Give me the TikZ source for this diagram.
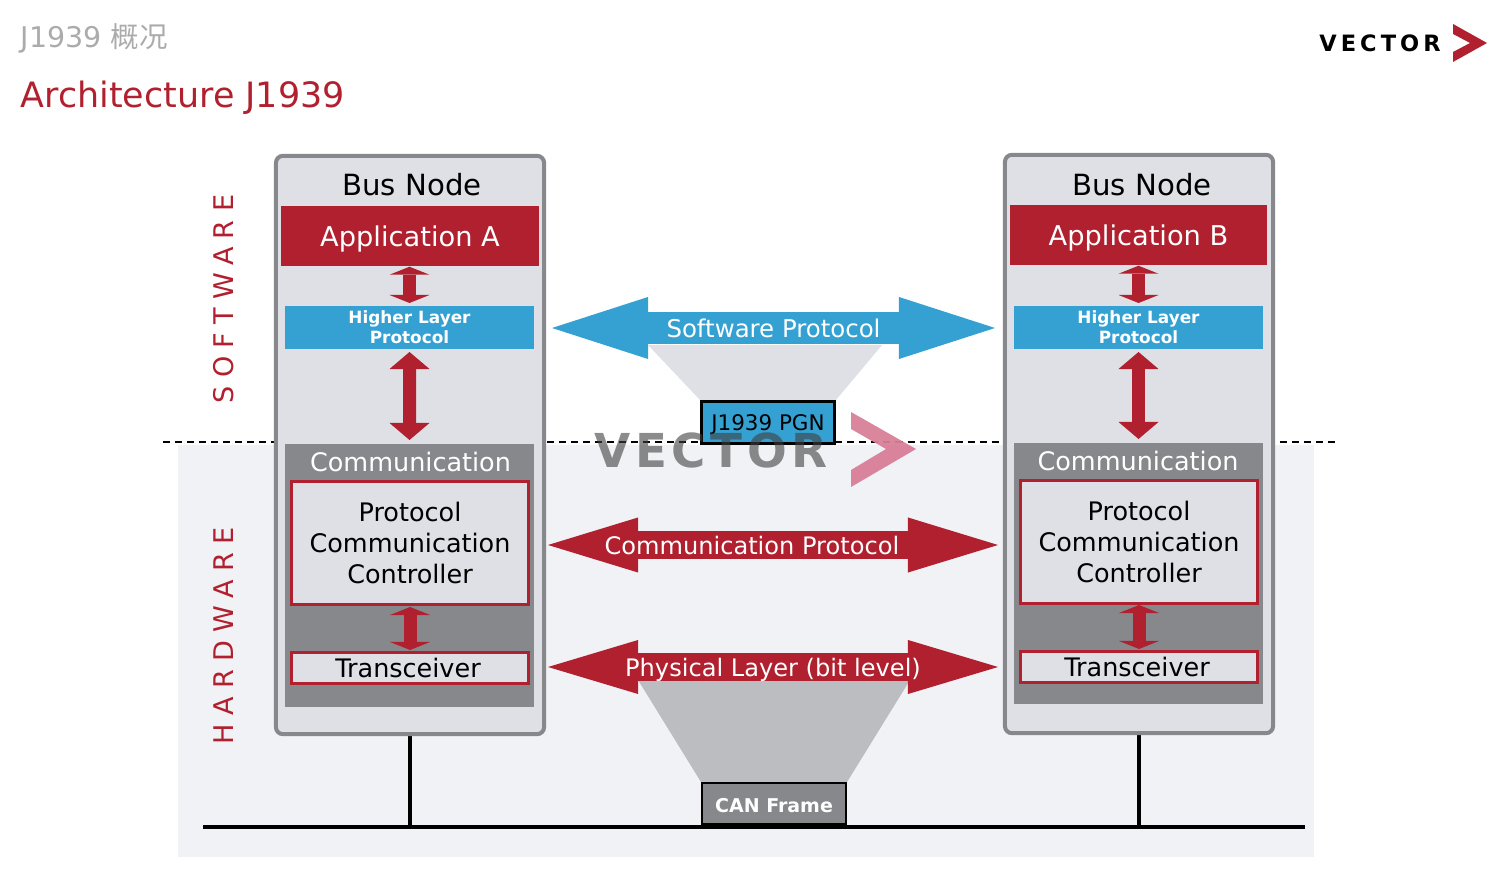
\documentclass[tikz,border=0pt]{standalone}
\usepackage{fontspec}
\setmainfont{DejaVu Sans}
\newfontfamily\cjk{Noto Sans CJK SC}
\usepackage{tikz}
\usetikzlibrary{positioning, arrows.meta, backgrounds}

\definecolor{vecred}{HTML}{B1202F}
\definecolor{vecblue}{HTML}{34A1D2}
\definecolor{vecgrey}{HTML}{87888C}
\definecolor{vecpale}{HTML}{DFE0E5}
\definecolor{vecpanel}{HTML}{F1F2F6}
\definecolor{vecfunnel}{HTML}{BCBDC1}
\definecolor{vecpink}{HTML}{D87F98}

\tikzset{
    blockarrow/.style n args={4}{draw=#4, line width=#1,
        arrows={Triangle[length=#2,width=#3,line width=0pt]-Triangle[length=#2,width=#3,line width=0pt]}},
    smallarrow/.style={blockarrow={.13cm}{#1}{.4cm}{vecred}},
    nodebox/.style={draw=vecgrey, fill=vecpale, line width=.04cm, rounded corners=.07cm, minimum width=2.68cm, minimum height=5.78cm},
    appbox/.style={fill=vecred, text=white, minimum width=2.57cm, minimum height=.6cm, text depth=0pt, font=\fontsize{7.75}{9}\selectfont},
    layerbox/.style={fill=vecblue, text=white, minimum width=2.49cm, minimum height=.43cm, font=\fontsize{4.8}{5.7}\selectfont\bfseries, align=center},
    commbox/.style={fill=vecgrey, minimum width=2.49cm},
    ctrlbox/.style={draw=vecred, fill=vecpale, line width=.03cm, minimum width=2.36cm, minimum height=1.23cm, font=\fontsize{7.25}{8.75}\selectfont, align=center},
    transbox/.style={draw=vecred, fill=vecpale, line width=.03cm, minimum width=2.36cm, minimum height=.31cm, font=\fontsize{7.25}{8.75}\selectfont},
    sidetext/.style={rotate=90, text=vecred, font=\fontsize{7.7}{9}\selectfont\addfontfeatures{LetterSpace=31}},
    arrowtext/.style={text=white, text depth=0pt, font=\fontsize{#1}{9}\selectfont}
}

\begin{document}
\begin{tikzpicture}[x=.01cm, y=-.01cm, inner sep=0pt]
        \useasboundingbox (0,0) rectangle (1492,877);

        % Heading
        \node[anchor=west, text=black!33, font=\fontsize{8.1}{10}\selectfont] (heading) at (20,38) {J1939 {\cjk 概况}};
        \node[anchor=west, text=vecred, font=\fontsize{9.93}{12}\selectfont] (title) at (20,98) {Architecture J1939};

        % Logo
        \node[font=\fontsize{6.4}{8}\selectfont\bfseries\addfontfeatures{LetterSpace=18}] (logo) at (1380,43) {VECTOR};
        \fill[vecred] (1453,24) -- (1487,43) -- (1453,62) -- (1453,52) -- (1470,43) -- (1453,34) -- cycle;

        % Side texts
        \node[sidetext] (software) at (224,299) {SOFTWARE};
        \node[sidetext] (hardware) at (224,636) {HARDWARE};

        % Bus node A
        \node[nodebox] (busA) at (410,445) {};
        \node[font=\fontsize{8.3}{10}\selectfont] (nameA) at (412,185) {Bus Node};
        \node[appbox] (appA) at (410,236) {Application A};
        \node[layerbox] (hlpA) [below of=appA, node distance=.915cm, xshift=-.005cm] {Higher Layer\\Protocol};
        \node[commbox, minimum height=2.63cm] (commA) at (409.5,575.5) {};
        \node[text=white, font=\fontsize{7.25}{9}\selectfont] (commtextA) at (410.5,462) {Communication};
        \node[ctrlbox] (ctrlA) at (410,543) {Protocol\\Communication\\Controller};
        \node[transbox] (transA) [below of=ctrlA, node distance=1.25cm] {Transceiver\rule{.04cm}{0pt}};

        % Bus node B
        \node[nodebox] (busB) at (1139,444) {};
        \node[font=\fontsize{8.3}{10}\selectfont] (nameB) at (1142,185) {Bus Node};
        \node[appbox] (appB) at (1138.5,235) {Application B};
        \node[layerbox] (hlpB) [below of=appB, node distance=.92cm] {Higher Layer\\Protocol};
        \node[commbox, minimum height=2.61cm] (commB) at (1138.5,573.5) {};
        \node[text=white, font=\fontsize{7.25}{9}\selectfont] (commtextB) at (1138,461) {Communication};
        \node[ctrlbox] (ctrlB) at (1139,542) {Protocol\\Communication\\Controller};
        \node[transbox] (transB) [below of=ctrlB, node distance=1.25cm] {Transceiver\rule{.04cm}{0pt}};

        % Frames in the middle
        \node[draw=black, fill=vecblue, line width=.03cm, minimum width=1.32cm, minimum height=.41cm, text depth=0pt, font=\fontsize{6.1}{8}\selectfont] (pgn) at (768,422.5) {J1939 PGN};
        \node[draw=black, fill=vecgrey, line width=.02cm, text=white, minimum width=1.44cm, minimum height=.41cm, text height=.177cm, font=\fontsize{5.4}{7}\selectfont\bfseries] (frame) at (774,803.5) {CAN Frame};

        % Ends of the free connectors
        \coordinate (softL) at (552,328);
        \coordinate (softR) at (995,328);
        \coordinate (commL) at (548,545);
        \coordinate (commR) at (998,545);
        \coordinate (physL) at (548,667);
        \coordinate (physR) at (998,667);
        \coordinate (lineL) at (203,827);
        \coordinate (lineR) at (1305,827);
        \coordinate (dashL) at (163,442);
        \coordinate (dashR) at (1335,442);

        % Arrows inside the bus nodes
        \draw[smallarrow=.08cm] (hlpA.north |- appA.south) -- (hlpA.north |- 0,303);
        \draw[smallarrow=.17cm] (hlpA.south |- 0,352) -- (commA.north |- 0,440);
        \draw[smallarrow=.08cm] (ctrlA.south |- 0,607) -- (transA.north |- 0,650);
        \draw[smallarrow=.08cm] (hlpB.north |- appB.south) -- (hlpB.north |- 0,303);
        \draw[smallarrow=.17cm] (hlpB.south |- 0,352) -- (commB.north |- 0,439);
        \draw[smallarrow=.08cm] (ctrlB.south |- 0,605) -- (transB.north |- 0,649);

        % Arrows between the bus nodes
        \draw[blockarrow={.32cm}{.96cm}{.62cm}{vecblue}] (softL) -- node[arrowtext=6.95] (softtext) {Software Protocol} (softR);
        \draw[blockarrow={.27cm}{.9cm}{.55cm}{vecred}] (commL) -- node[arrowtext=6.85, pos=.453] (commtext) {Communication Protocol} (commR);
        \draw[blockarrow={.27cm}{.9cm}{.54cm}{vecred}] (physL) -- node[arrowtext=6.85] (phystext) {Physical Layer (bit level)} (physR);

        % Watermark
        \node[opacity=.6, text=black!75, font=\fontsize{13.3}{16}\selectfont\bfseries\addfontfeatures{LetterSpace=10}] (mark) at (711,450) {VECTOR};
        \fill[vecpink, opacity=.95] (851,412) -- (916,449) -- (851,487) -- (851,470) -- (886,449) -- (851,429) -- cycle;

        \begin{scope}[on background layer]
            \fill[vecpanel] (178,445) rectangle (1314,857);
            \draw[dashed, line width=.015cm, dash pattern=on .07cm off .05cm] (dashL) -- (dashR);
            \fill[vecpale] (648,345) -- (882,345) -- (pgn.north east) -- (pgn.north west) -- cycle;
            \fill[vecfunnel] (638,680) -- (910,680) -- (frame.north east) -- (frame.north west) -- cycle;
            \draw[line width=.04cm] (lineL) -- (lineR);
            \draw[line width=.04cm] (busA.south) -- (busA.south |- lineL);
            \draw[line width=.04cm] (busB.south) -- (busB.south |- lineL);
        \end{scope}
\end{tikzpicture}
\end{document}
